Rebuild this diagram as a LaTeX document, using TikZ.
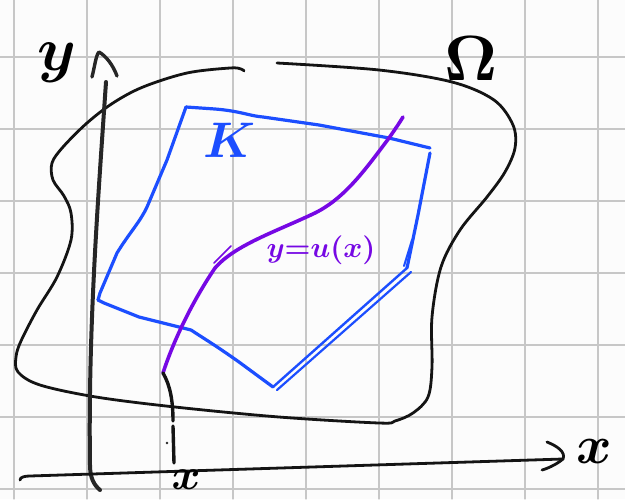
\documentclass[tikz,border=0pt]{standalone}
\begin{document}
\begin{tikzpicture}[x=1pt,y=-1pt,line cap=round,line join=round,
  gridline/.style={draw=black!22,line width=1.3pt},
  blk/.style={draw=black!92,line width=2.8pt},
  axisline/.style={draw=black!85,line width=4pt},
  bluek/.style={draw=kblue,line width=3.2pt},
  purp/.style={draw=upurple,line width=3.6pt},
  lab/.style={inner sep=0pt,anchor=center,font=\boldmath}]
\definecolor{kblue}{RGB}{28,78,255}
\definecolor{upurple}{RGB}{118,8,228}
\useasboundingbox (0,0) rectangle (625,499);
\fill[black!1] (0,0) rectangle (625,499);
% grid
\foreach \gx in {14,87,160,233,306,379,452,525,598} \draw[gridline] (\gx,0) -- (\gx,499);
\foreach \gy in {57,129,201,273,345,417,489} \draw[gridline] (0,\gy) -- (625,\gy);
% domain Omega
\draw[blk] plot[smooth,tension=0.55] coordinates {(277,63) (379,70) (452,82) (494,100) (513,125) (515,148) (505,172) (487,197) (460,230) (441,267) (432,317) (432,367) (428,397) (413,413) (395,421) (379,423) (279,417) (175,407) (96,397) (40,385) (18,372) (16,357) (21,341) (37,310) (57,277) (71,240) (71,213) (64,196) (53,180) (52,163) (63,147) (87,123) (113,103) (143,87) (187,73) (230,68) (241,69) (244,71)};
% y axis
\coordinate (ytop) at (106,82);
\coordinate (ybot) at (100,490);
\draw[axisline] (ytop) .. controls (98,200) and (88,330) .. (90,465) .. controls (90,478) and (94,485) .. (ybot);
\draw[axisline,line width=3.4pt] (92,77) .. controls (95,65) and (96,55) .. (99,52) .. controls (106,56) and (113,65) .. (117,76);
% x axis
\coordinate (xl) at (20,480);
\coordinate (xr) at (563,459);
\draw[blk] (xl) .. controls (20,477) and (25,476) .. (30,476) -- (xr);
\draw[blk] (547,442) .. controls (557,446) and (566,452) .. (563,459) .. controls (556,465) and (546,469) .. (542,470);
% K polygon
\coordinate (k1) at (186,107);
\coordinate (k2) at (430,148);
\coordinate (k3) at (407,268);
\coordinate (k4) at (273,387);
\coordinate (k5) at (98,300);
\draw[bluek] (k1) -- (215,109) .. controls (240,111) and (250,116) .. (263,117) -- (319,125) -- (389,138) -- (k2);
\draw[bluek] (430,153) -- (418,215) -- (k3);
\draw[bluek,line width=2pt] (412,240) -- (404,266);
\draw[bluek,line width=2.4pt] (k3) -- (k4);
\draw[bluek,line width=2.2pt] (411,272) -- (277,390);
\draw[bluek] (k4) -- (239,362) .. controls (215,345) and (200,336) .. (191,330) -- (139,317) -- (104,303) -- (k5);
\draw[bluek] (k5) -- (100,293) -- (117,253) .. controls (130,232) and (140,222) .. (147,207) -- (167,160) -- (k1);
% purple curve y=u(x)
\coordinate (ua) at (163,373);
\coordinate (ub) at (403,117);
\draw[purp] (ua) .. controls (172,345) and (190,305) .. (215,268) .. controls (235,245) and (275,232) .. (315,213) .. controls (345,198) and (365,170) .. (389,138) .. controls (396,128) and (400,122) .. (ub);
\draw[purp,line width=1.6pt] (214,263) -- (231,246);
% x tick line
\draw[blk,line width=3.4pt] (ua) .. controls (170,385) and (173,400) .. (173,421);
\draw[blk,line width=3.4pt] (173,426) -- (174,463);
\fill[black!85] (167,443) circle (1.3pt);
% labels
\node[lab,scale=6.2] (ylab) at (57,63) {$y$};
\node[lab,scale=6.4] (omlab) at (471,59) {$\Omega$};
\node[lab,scale=5.0,text=kblue] (klab) at (230,140) {$K$};
\node[lab,scale=5.4] (xlab) at (594,451) {$x$};
\node[lab,scale=4.4] (xtick) at (186,480) {$x$};
\node[lab,scale=2.9,text=upurple,anchor=base] (ulab) at (321,257) {$y{=}u(x)$};
\end{tikzpicture}
\end{document}
